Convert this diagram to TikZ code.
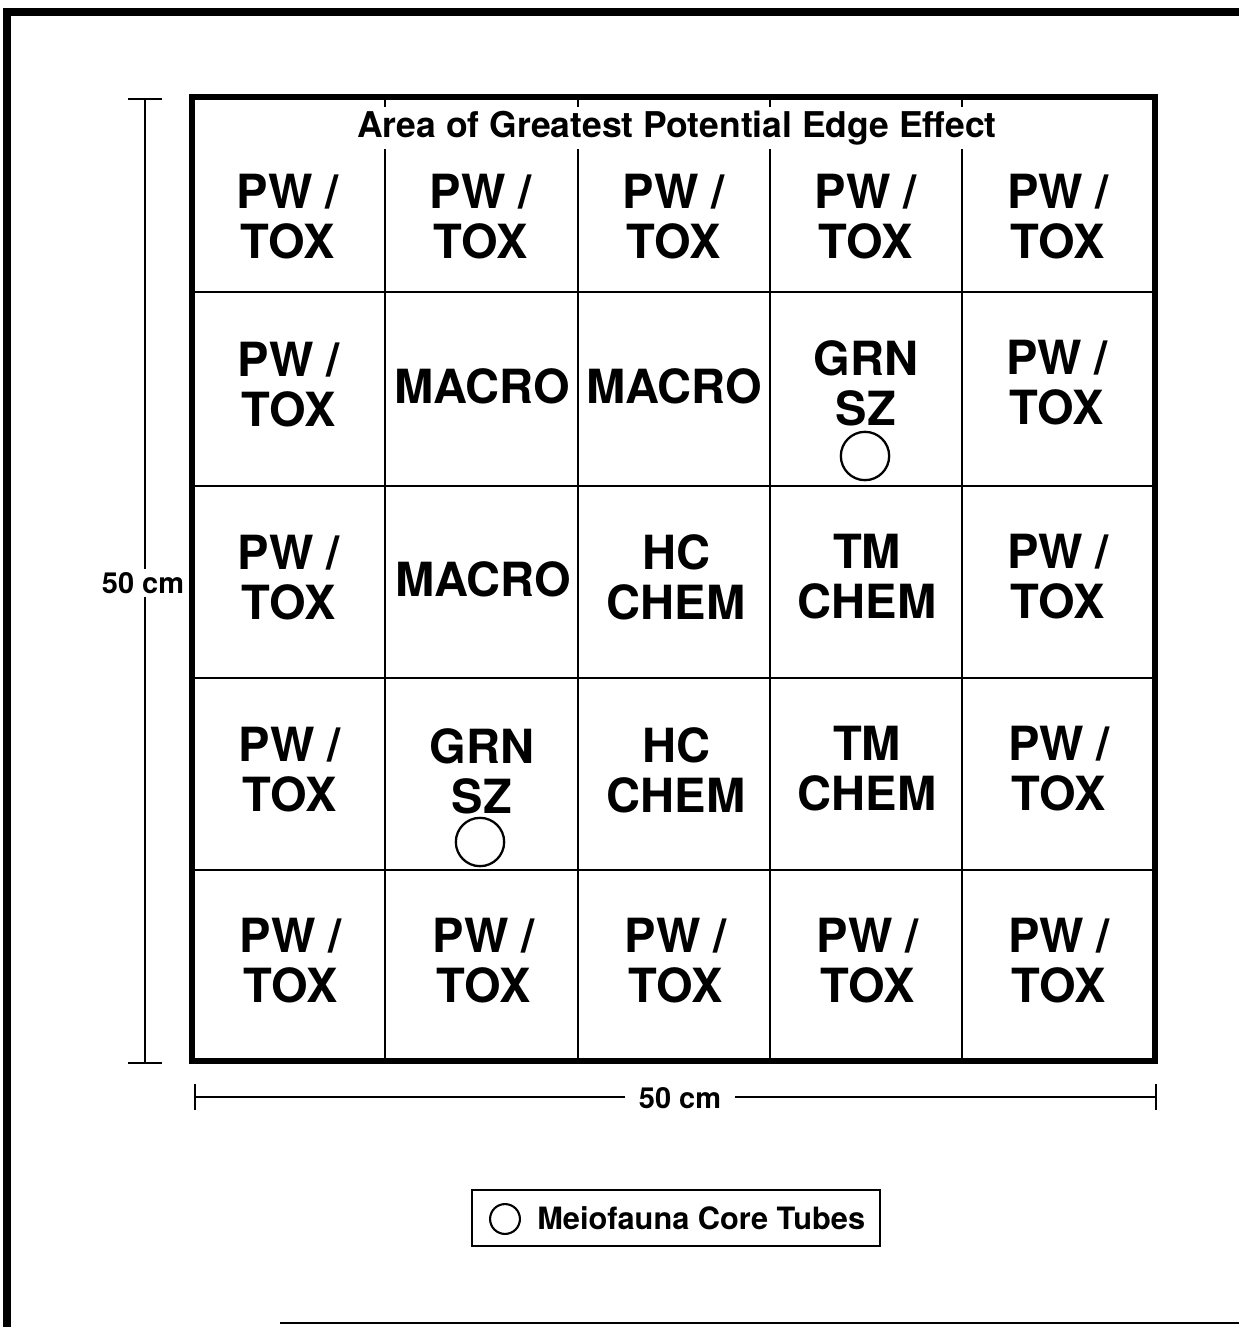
\documentclass[tikz,border=0pt]{standalone}
\usepackage{fontspec}
\setsansfont{TeX Gyre Heros}
\usetikzlibrary{positioning}

\tikzset{
  cell/.style={font=\sffamily\bfseries\fontsize{26.8}{28.5}\selectfont, align=center, inner sep=0pt},
  core/.style={draw, circle, line width=1.3pt, minimum size=27.5pt, inner sep=0pt},
  dimlabel/.style={font=\sffamily\bfseries\fontsize{16.5}{18}\selectfont, fill=white, inner sep=2pt}
}

\begin{document}
\begin{tikzpicture}[x=0.02cm, y=-0.02cm]
  \useasboundingbox (0,0) rectangle (1239,1327);
  % page frame (cut off at right and bottom)
  \draw[line width=4pt] (1239,12) -- (7,12) -- (7,1327);
  \draw[line width=1.2pt] (280,1323) -- (1239,1323);

  % grid of cells
  \foreach \gx in {385,578,770,962}
    \draw[line width=0.7pt] (\gx,97) -- (\gx,1061);
  \foreach \gy in {292,486,678,870}
    \draw[line width=0.7pt] (192,\gy) -- (1155,\gy);
  \draw[line width=3pt] (192,97) rectangle (1155,1061);

  \node[font=\sffamily\bfseries\fontsize{20.2}{22}\selectfont, fill=white, inner sep=2pt]
    (edge) at (677,128) {Area of Greatest Potential Edge Effect};

  % top row
  \foreach \cx [count=\i] in {288,481,674,866,1058}
    \node[cell] (r1c\i) at (\cx,217) {PW /\\TOX};
  % bottom row
  \foreach \cx [count=\i] in {291,484,676,868,1059}
    \node[cell] (r5c\i) at (\cx,961) {PW /\\TOX};
  % side columns
  \node[cell] (r2c1) at (289,385) {PW /\\TOX};
  \node[cell] (r3c1) at (289,578) {PW /\\TOX};
  \node[cell] (r4c1) at (290,770) {PW /\\TOX};
  \node[cell] (r2c5) at (1057,383) {PW /\\TOX};
  \node[cell] (r3c5) at (1058,577) {PW /\\TOX};
  \node[cell] (r4c5) at (1059,769) {PW /\\TOX};

  % interior
  \node[cell] (r2c2) at (482,386) {MACRO};
  \node[cell] (r2c3) at (674,386) {MACRO};
  \node[cell] (r2c4) at (866,383) {GRN\\SZ};
  \node[cell] (r3c2) at (483,579) {MACRO};
  \node[cell] (r3c3) at (676,577) {HC\\CHEM};
  \node[cell] (r3c4) at (867,577) {TM\\CHEM};
  \node[cell] (r4c2) at (482,771) {GRN\\SZ};
  \node[cell] (r4c3) at (676,770) {HC\\CHEM};
  \node[cell] (r4c4) at (867,769) {TM\\CHEM};

  \node[core] (tube1) at (865,456) {};
  \node[core] (tube2) at (480,842) {};

  % dimension lines
  \coordinate (vtop) at (145,99);
  \coordinate (vbot) at (145,1063);
  \draw[line width=1pt] (vtop) -- (vbot);
  \draw[line width=1pt] (128,99) -- (162,99);
  \draw[line width=1pt] (128,1063) -- (162,1063);
  \node[dimlabel] (vlab) at (143,583) {50 cm};

  \coordinate (hleft) at (195,1097);
  \coordinate (hright) at (1156,1097);
  \draw[line width=1pt] (hleft) -- (hright);
  \draw[line width=1pt] (195,1084) -- (195,1110);
  \draw[line width=1pt] (1156,1084) -- (1156,1110);
  \node[dimlabel, inner xsep=8pt] (hlab) at (680,1098) {50 cm};

  % legend
  \node[draw, line width=1.2pt, minimum width=232pt, minimum height=32pt, inner sep=0pt]
    (legend) at (676,1218) {};
  \node[draw, circle, line width=1.2pt, minimum size=17pt, inner sep=0pt] (legtube) at (505,1219) {};
  \node[font=\sffamily\bfseries\fontsize{17.5}{20}\selectfont, anchor=west, inner sep=0pt]
    (legtext) at (537,1218) {Meiofauna Core Tubes};
\end{tikzpicture}
\end{document}
